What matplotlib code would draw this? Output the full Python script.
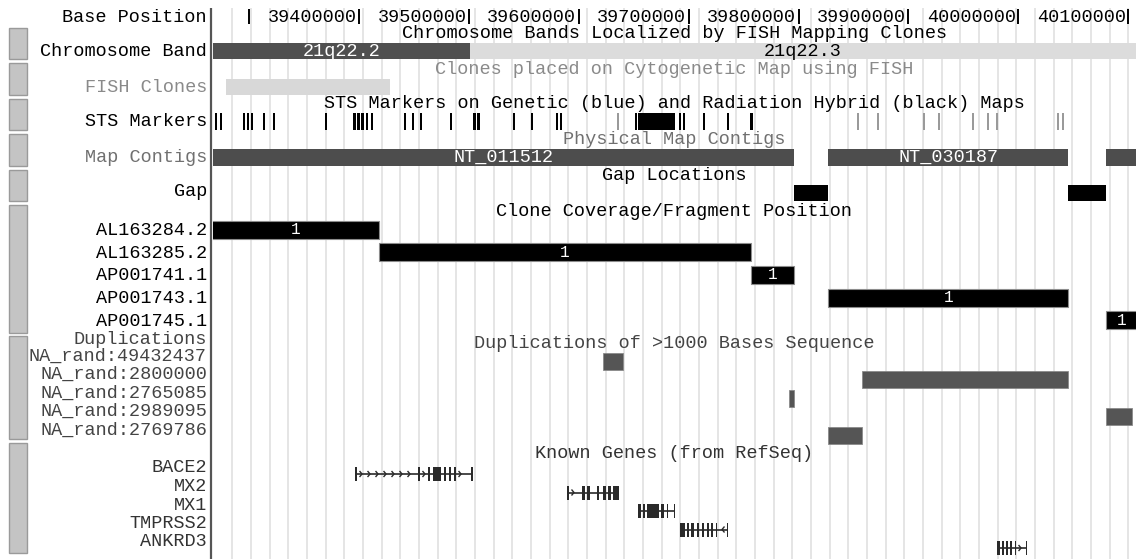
import numpy as np
import matplotlib.pyplot as plt
from matplotlib.patches import Rectangle
from matplotlib.collections import LineCollection

# chr21 window shown in the browser (bp)
VIEW_START = 39267140
VIEW_END = 40107070

ruler_ticks = [39300000, 39400000, 39500000, 39600000, 39700000,
               39800000, 39900000, 40000000, 40100000]
ruler_labels = ['', '39400000', '39500000', '39600000', '39700000',
                '39800000', '39900000', '40000000', '40100000']

band_names = ['21q22.2', '21q22.3']
band_start = [39200000, 39501000]
band_end = [39501000, 40200000]
band_stain = ['gpos', 'gneg']

fish_start = [39278900]
fish_end = [39428200]

# STS markers, start (kb) and length (kb)
sts_rh_kb = [39269.0, 39273.5, 39294.4, 39298.1, 39301.7, 39312.6, 39321.7,
             39369.1, 39394.5, 39398.2, 39401.8, 39406.4, 39410.9, 39441.0,
             39448.2, 39455.5, 39482.8, 39503.8, 39507.4, 39540.1, 39556.5,
             39579.3, 39582.9, 39651.2, 39653.9, 39691.2, 39694.8, 39713.0,
             39734.9, 39755.8]
sts_rh_len = [1.5, 1.5, 1.5, 1.5, 1.5, 1.5, 1.5,
              1.5, 3.0, 3.0, 2.5, 2.0, 2.0, 1.5,
              1.5, 1.5, 1.5, 3.0, 3.0, 1.5, 1.5,
              1.5, 1.5, 1.5, 33.7, 2.0, 2.0, 1.5,
              1.5, 3.0]
sts_gen_kb = [39634.8, 39853.2, 39871.4, 39913.2, 39926.9, 39957.8,
              39971.5, 39979.7, 40035.2, 40039.7]
sts_gen_len = [1.5] * 10

contig_names = ['NT_011512', 'NT_030187', '']
contig_start = [39200000, 39826900, 40080000]
contig_end = [39796000, 40045400, 40200000]

gap_start = [39796000, 40045400]
gap_end = [39826900, 40080000]

clone_names = ['AL163284.2', 'AL163285.2', 'AP001741.1', 'AP001743.1', 'AP001745.1']
clone_start = [39230000, 39418200, 39756800, 39826900, 40080000]
clone_end = [39418200, 39756800, 39796000, 40045400, 40180000]
clone_frag = ['1', '1', '1', '1', '1']

dup_names = ['NA_rand:49432437', 'NA_rand:2800000', 'NA_rand:2765085',
             'NA_rand:2989095', 'NA_rand:2769786']
dup_start = [39622100, 39857900, 39791400, 40080000, 39826900]
dup_end = [39640300, 40045400, 39796000, 40103600, 39857900]

gene_names = ['BACE2', 'MX2', 'MX1', 'TMPRSS2', 'ANKRD3']
gene_strand = ['+', '+', '+', '-', '+']
# exons as (start, end) in kb
gene_exons = [
    [(39396.4, 39398.2), (39453.7, 39455.5), (39462.8, 39464.6), (39467.3, 39474.6),
     (39477.4, 39479.2), (39481.9, 39483.7), (39486.5, 39488.3), (39501.9, 39503.7)],
    [(39589.3, 39591.1), (39602.9, 39605.7), (39607.5, 39610.2), (39616.6, 39618.4),
     (39622.0, 39624.8), (39626.6, 39629.3), (39631.1, 39636.6)],
    [(39653.9, 39656.6), (39658.4, 39660.3), (39662.1, 39673.0), (39674.8, 39677.6),
     (39680.3, 39681.2), (39686.7, 39687.6)],
    [(39692.1, 39696.7), (39698.5, 39700.3), (39702.1, 39704.9), (39707.6, 39709.4),
     (39712.1, 39713.9), (39716.7, 39718.5), (39720.3, 39722.1), (39724.9, 39725.8),
     (39734.9, 39735.8)],
    [(39980.6, 39983.3), (39985.1, 39987.0), (39988.8, 39990.6), (39992.4, 39994.2),
     (39997.0, 39997.9), (40007.0, 40007.9)],
]

W, H = 1136, 559
LEFT = 213
FONT = 'Liberation Mono'
FS = 13.3
BP_PX = (VIEW_END - VIEW_START) / (W - LEFT)

fig = plt.figure(figsize=(W / 100, H / 100), dpi=100)
fig.patch.set_facecolor('white')
lax = fig.add_axes([0, 0, LEFT / W, 1])
lax.set_xlim(0, LEFT)
lax.set_ylim(H, 0)
lax.axis('off')
ax = fig.add_axes([LEFT / W, 0, (W - LEFT) / W, 1])
ax.set_xlim(VIEW_START, VIEW_END)
ax.set_ylim(H, 0)
ax.axis('off')


def txt(a, x, y, s, color='black', ha='center', size=FS):
    a.text(x, y, s, ha=ha, va='center', fontsize=size, family=FONT,
           color=color, clip_on=False)


def box(s, e, y0, y1, fc, ec=None, lw=0):
    ax.add_patch(Rectangle((s, y0), e - s, y1 - y0, facecolor=fc,
                           edgecolor=ec if ec else fc, linewidth=lw))


def mid(s, e):
    return (max(s, VIEW_START) + min(e, VIEW_END)) / 2


MIDX = (VIEW_START + VIEW_END) / 2

# guidelines
grid = np.arange(VIEW_START + 19.3 * BP_PX, VIEW_END, 18.67 * BP_PX)
ax.vlines(grid, 8, H, color='#dedede', linewidth=1.1, zorder=0)

# left side: buttons, separator, track labels
buttons = [(28, 59), (63, 95), (99, 130), (134, 166), (170, 201),
           (205, 333), (336, 439), (443, 553)]
for y0, y1 in buttons:
    lax.add_patch(Rectangle((9, y0), 18, y1 - y0, facecolor='#c4c4c4',
                            edgecolor='#9a9a9a', linewidth=1))
lax.vlines(211, 8, H, color='#555555', linewidth=1.6)

txt(lax, 207, 17, 'Base Position', ha='right')
txt(lax, 207, 51, 'Chromosome Band', ha='right')
txt(lax, 207, 87, 'FISH Clones', ha='right', color='#8a8a8a')
txt(lax, 207, 121, 'STS Markers', ha='right')
txt(lax, 207, 157, 'Map Contigs', ha='right', color='#707070')
txt(lax, 207, 192, 'Gap', ha='right')

# ruler
for t, lab in zip(ruler_ticks, ruler_labels):
    ax.vlines(t, 9, 24, color='black', linewidth=1.4)
    if lab:
        txt(ax, t - 2.5 * BP_PX, 17, lab, ha='right')

# chromosome bands
txt(ax, MIDX, 33, 'Chromosome Bands Localized by FISH Mapping Clones')
for n, s, e, st in zip(band_names, band_start, band_end, band_stain):
    dark = st == 'gpos'
    box(s, e, 43, 59, '#505050' if dark else '#dcdcdc')
    txt(ax, mid(s, e), 51, n, color='white' if dark else 'black')

# FISH clones
txt(ax, MIDX, 70, 'Clones placed on Cytogenetic Map using FISH', color='#8a8a8a')
for s, e in zip(fish_start, fish_end):
    box(s, e, 79, 95, '#d8d8d8')

# STS markers
txt(ax, MIDX, 104, 'STS Markers on Genetic (blue) and Radiation Hybrid (black) Maps')
for s, l in zip(sts_rh_kb, sts_rh_len):
    box(s * 1000, (s + l) * 1000, 113, 130, 'black')
for s, l in zip(sts_gen_kb, sts_gen_len):
    box(s * 1000, (s + l) * 1000, 113, 130, '#9a9a9a')

# map contigs
txt(ax, MIDX, 140, 'Physical Map Contigs', color='#707070')
for n, s, e in zip(contig_names, contig_start, contig_end):
    box(s, e, 149, 166, '#4d4d4d')
    if n:
        txt(ax, mid(s, e), 157.5, n, color='white')

# gaps
txt(ax, MIDX, 176, 'Gap Locations')
for s, e in zip(gap_start, gap_end):
    box(s, e, 185, 201, 'black')

# clone coverage
txt(ax, MIDX, 211, 'Clone Coverage/Fragment Position')
for i, (n, s, e, f) in enumerate(zip(clone_names, clone_start, clone_end, clone_frag)):
    yc = 229.5 + i * 22.7
    txt(lax, 207, yc + 1, n, ha='right')
    box(s, e, yc - 9, yc + 9, 'black', ec='#8c8c8c', lw=0.8)
    txt(ax, mid(s, e), yc, f, color='white', size=11.5)

# duplications
txt(lax, 207, 340, 'Duplications', ha='right', color='#444444')
txt(ax, MIDX, 343, 'Duplications of >1000 Bases Sequence', color='#444444')
for i, (n, s, e) in enumerate(zip(dup_names, dup_start, dup_end)):
    yc = 361 + i * 18.6
    txt(lax, 207, yc - 5, n, ha='right', color='#444444')
    box(s, e, yc - 8.5, yc + 8.5, '#555555', ec='#8a8a8a', lw=0.6)

# known genes
txt(ax, MIDX, 454, 'Known Genes (from RefSeq)', color='#333333')
chev = []
for i, (n, strand, exons) in enumerate(zip(gene_names, gene_strand, gene_exons)):
    yc = 474 + i * 18.5
    txt(lax, 207, yc - 6, n, ha='right', color='#333333')
    ex = [(a * 1000, b * 1000) for a, b in exons]
    ax.hlines(yc, ex[0][0], ex[-1][1], color='#2a2a2a', linewidth=1.2)
    for a, b in ex:
        box(a, max(b, a + BP_PX), yc - 7, yc + 7, '#2a2a2a')
    # strand chevrons along the introns
    d = 1 if strand == '+' else -1
    for (a0, b0), (a1, b1) in zip(ex[:-1], ex[1:]):
        x = b0 + 5 * BP_PX
        while x < a1 - 3 * BP_PX:
            chev.append([(x - d * 2.5 * BP_PX, yc - 3), (x, yc), (x - d * 2.5 * BP_PX, yc + 3)])
            x += 8 * BP_PX
ax.add_collection(LineCollection(chev, colors='#2a2a2a', linewidths=1.0))

fig.savefig('out.png', dpi=100, facecolor='white')
